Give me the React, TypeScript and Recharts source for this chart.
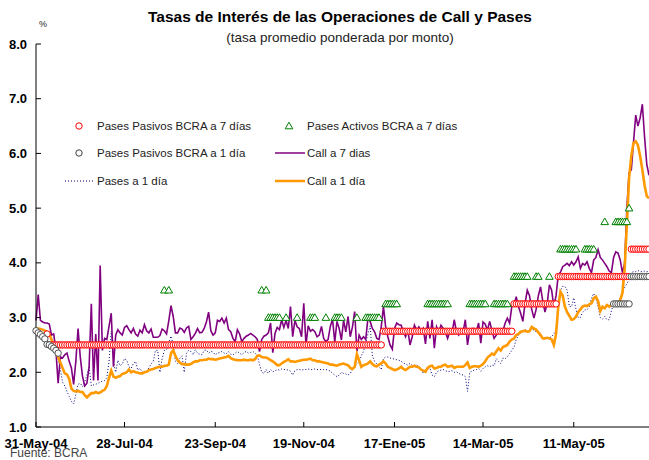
import { ComposedChart, Line, XAxis, YAxis } from "recharts";

const n = null;

// x axis: business-day index; labelled dates fall on these days
const tickDays = [0, 40, 81, 121, 162, 202, 243];
const tickLabels = ["31-May-04", "28-Jul-04", "23-Sep-04", "19-Nov-04", "17-Ene-05", "14-Mar-05", "11-May-05"];
const yTicks = [1, 2, 3, 4, 5, 6, 7, 8];

// Call a 7 días
const call7 = [
  2.95, 3.42, 2.95, 2.92, 2.9, 2.9, 2.88, 2.68, 2.7, 2.4,
  1.8, 2.28, 2.26, 2.32, 2.35, 2.2, 2.08, 1.78, 2.2, 2.8,
  2.28, 1.93, 1.75, 1.8, 2.1, 3.25, 1.85, 2.7, 1.85, 3.95,
  2.4, 2.62, 2.6, 2.84, 3.08, 2.1, 2.68, 2.78, 2.72, 2.68,
  2.82, 2.85, 2.78, 2.72, 2.8, 2.7, 2.66, 2.77, 2.72, 2.87,
  2.76, 2.72, 2.79, 2.64, 2.64, 2.64, 2.67, 2.79, 2.76, 2.7,
  2.94, 3.22, 3.02, 2.72, 2.72, 2.81, 2.79, 2.73, 2.81, 2.84,
  2.6, 2.65, 2.71, 2.8, 2.72, 2.73, 2.8, 2.92, 3.1, 2.76,
  2.68, 2.72, 2.95, 2.93, 2.99, 2.9, 2.99, 2.78, 2.74, 2.62,
  2.56, 2.78, 2.7, 2.56, 2.62, 2.66, 2.68, 2.71, 2.68, 2.65,
  2.6, 2.38, 2.6, 2.66, 2.68, 2.72, 2.9, 2.36, 2.71, 2.82,
  2.78, 2.96, 2.82, 2.95, 2.8, 3.2, 2.65, 2.95, 2.83, 2.8,
  2.65, 3.26, 2.5, 2.85, 2.75, 2.78, 2.74, 2.65, 2.68, 2.84,
  2.62, 2.56, 2.6, 2.84, 2.97, 2.55, 2.93, 2.8, 2.59, 2.95,
  2.74, 3.02, 2.65, 2.83, 3.11, 2.38, 2.68, 2.6, 2.65, 2.6,
  2.99, 2.93, 2.8, 2.74, 2.62, 2.6, 2.83, 3.2, 2.83, 2.65,
  2.5, 2.42, 2.8, 2.9, 2.87, 2.86, 2.74, 2.65, 2.78, 2.5,
  2.65, 2.86, 2.77, 2.83, 2.74, 2.8, 2.52, 2.93, 2.62, 2.96,
  2.44, 2.83, 2.74, 2.86, 2.8, 2.74, 2.62, 2.75, 2.72, 2.96,
  2.74, 2.68, 2.74, 2.74, 2.96, 2.5, 2.77, 2.8, 2.8, 2.74,
  2.9, 2.53, 2.92, 2.88, 2.77, 2.93, 2.77, 2.62, 2.68, 2.74,
  2.71, 2.75, 2.9, 2.99, 2.9, 3.2, 3.23, 3.38, 3.2, 3.08,
  2.93, 3.26, 3.5, 3.4, 3.15, 2.99, 3.15, 3.4, 3.56, 3.3,
  3.1, 3.26, 3.6, 3.5, 3.2, 3.4, 3.78, 3.83, 3.93, 3.96,
  3.99, 3.95, 4.02, 3.96, 4.02, 4.11, 3.9, 3.99, 3.96, 4.02,
  3.9, 3.82, 4.05, 4.1, 4.24, 4.1, 4.05, 3.99, 3.93, 3.85,
  3.82, 4.1, 4.2, 4.18, 4.05, 3.82, 4.0, 5.0, 5.65, 5.7,
  6.2, 6.7, 6.5, 6.65, 6.9, 6.3, 5.8, 5.6,
];

// Call a 1 día
const call1 = [
  2.8, 2.8, 2.79, 2.78, 2.76, 2.74, 2.7, 2.6, 2.5, 2.4,
  2.28, 2.18, 2.08, 1.98, 1.96, 1.88, 1.7, 1.66, 1.65, 1.66,
  1.64, 1.64, 1.58, 1.54, 1.58, 1.62, 1.62, 1.64, 1.62, 1.63,
  1.66, 1.68, 1.75, 1.9, 2.03, 1.92, 1.9, 1.92, 1.93, 1.97,
  1.98, 2.0, 2.05, 2.0, 2.02, 2.0, 1.99, 1.98, 1.98, 2.0,
  2.01, 2.04, 2.05, 2.06, 2.08, 2.09, 2.1, 2.1, 2.12, 2.12,
  2.14, 2.35, 2.4, 2.3, 2.22, 2.18, 2.15, 2.15, 2.14, 2.14,
  2.15, 2.18, 2.2, 2.2, 2.22, 2.22, 2.23, 2.23, 2.25, 2.24,
  2.24, 2.23, 2.24, 2.25, 2.26, 2.27, 2.28, 2.3, 2.26, 2.24,
  2.23, 2.22, 2.22, 2.22, 2.23, 2.22, 2.22, 2.23, 2.22, 2.24,
  2.3, 2.31, 2.28, 2.27, 2.27, 2.25, 2.22, 2.2, 2.17, 2.13,
  2.13, 2.16, 2.19, 2.21, 2.24, 2.2, 2.2, 2.19, 2.2, 2.21,
  2.22, 2.23, 2.23, 2.24, 2.25, 2.22, 2.22, 2.2, 2.2, 2.19,
  2.18, 2.17, 2.16, 2.14, 2.14, 2.13, 2.12, 2.14, 2.15, 2.16,
  2.14, 2.13, 2.08, 2.06, 2.1, 2.33, 2.22, 2.1, 2.13, 2.14,
  2.16, 2.2, 2.15, 2.12, 2.11, 2.14, 2.16, 2.2, 2.16, 2.1,
  2.08, 2.06, 2.04, 2.05, 2.07, 2.1, 2.06, 2.04, 2.07, 2.1,
  2.1, 2.12, 2.1, 2.09, 2.05, 2.03, 2.01, 2.08, 2.11, 2.12,
  2.07, 2.08, 2.1, 2.1, 2.13, 2.14, 2.1, 2.11, 2.12, 2.08,
  2.1, 2.1, 2.1, 2.1, 2.13, 2.18, 2.08, 2.1, 2.11, 2.11,
  2.1, 2.12, 2.15, 2.2, 2.27, 2.3, 2.34, 2.32, 2.38, 2.44,
  2.4, 2.46, 2.48, 2.5, 2.56, 2.6, 2.62, 2.68, 2.7, 2.74,
  2.75, 2.76, 2.74, 2.75, 2.83, 2.8, 2.78, 2.73, 2.68, 2.62,
  2.62, 2.63, 2.62, 2.6, 2.5, 2.7, 3.2, 3.47, 3.4, 3.2,
  3.1, 3.03, 2.96, 2.97, 3.02, 3.1, 3.15, 3.2, 3.22, 3.21,
  3.24, 3.26, 3.35, 3.38, 3.3, 3.12, 3.2, 3.17, 3.23, 3.2,
  3.23, 3.26, 3.27, 3.28, 3.32, 3.45, 3.9, 4.7, 5.55, 5.95,
  6.19, 6.22, 6.15, 5.95, 5.7, 5.42, 5.22, 5.18,
];

// Pases a 1 día
const pases1 = [
  2.75, 2.72, 2.7, 2.66, 2.62, 2.56, 2.5, 2.45, 2.4, 2.35,
  2.25, 2.05, 1.82, 1.75, 1.65, 1.56, 1.47, 1.42, 1.6, 1.78,
  1.8, 1.74, 1.82, 1.95, 2.1, 1.75, 1.77, 1.78, 1.8, 1.82,
  1.84, 1.85, 1.9, 2.2, 2.75, 2.2, 2.0, 2.22, 2.12, 2.15,
  2.25, 2.22, 2.1, 2.07, 2.16, 2.2, 2.04, 2.07, 2.0, 2.02,
  2.0, 2.08, 2.15, 2.2, 2.4, 2.4, 2.0, 2.25, 2.4, 2.42,
  2.55, 2.66, 2.5, 2.2, 2.16, 2.26, 2.3, 2.0, 2.35, 2.4,
  2.38, 2.32, 2.41, 2.35, 2.33, 2.32, 2.4, 2.41, 2.35, 2.38,
  2.37, 2.32, 2.35, 2.36, 2.38, 2.35, 2.34, 2.38, 2.33, 2.32,
  2.35, 2.38, 2.35, 2.32, 2.36, 2.38, 2.35, 2.36, 2.38, 2.35,
  2.3, 2.15, 2.0, 1.98, 2.05, 1.98, 2.05, 2.01, 2.03, 2.05,
  2.04, 2.06, 2.05, 2.05, 2.04, 2.02, 1.95, 2.03, 2.05, 2.05,
  2.04, 2.05, 2.05, 2.06, 2.05, 2.05, 2.06, 2.05, 2.05, 2.05,
  2.05, 2.05, 2.04, 2.02, 1.98, 1.95, 1.92, 1.95, 2.0, 1.98,
  1.97, 1.95, 1.98, 2.05, 2.1, 2.15, 2.2, 2.3, 2.38, 2.55,
  2.7, 2.85, 2.3, 2.2, 2.15, 2.1, 2.05, 2.25, 2.28, 2.28,
  2.26, 2.25, 2.24, 2.23, 2.22, 2.2, 2.17, 2.15, 2.13, 2.16,
  2.13, 2.12, 2.14, 2.1, 2.06, 1.98, 2.04, 2.06, 2.08, 1.95,
  1.92, 2.0, 2.03, 2.04, 2.05, 2.03, 2.01, 2.02, 2.03, 2.0,
  2.01, 1.98, 1.96, 1.95, 1.92, 1.65, 2.0, 2.02, 2.04, 2.05,
  2.07, 2.02, 2.07, 2.1, 2.12, 2.1, 2.13, 2.12, 2.25, 2.2,
  2.16, 2.26, 2.25, 2.28, 2.34, 2.4, 2.46, 2.6, 2.68, 2.71,
  2.75, 2.78, 2.76, 2.75, 2.79, 2.77, 2.74, 2.72, 2.65, 2.62,
  2.62, 2.62, 2.63, 2.65, 2.7, 2.77, 3.2, 3.5, 3.57, 3.57,
  3.5, 3.2, 3.2, 3.36, 3.15, 3.0, 3.0, 3.1, 3.14, 3.14,
  3.2, 3.35, 3.44, 3.35, 3.2, 3.0, 2.97, 3.02, 2.96, 2.96,
  3.12, 3.26, 3.26, 3.26, 3.35, 3.45, 3.55, 3.62, 3.7, 3.82,
  3.84, 3.84, 3.86, 3.84, 3.84, 3.85, 3.84, 3.84,
];

// Pases Pasivos BCRA a 7 días
const pasivos7 = [
  n, n, n, n, n, 2.7, 2.5, 2.5, 2.5, 2.5, 2.5, 2.5, 2.5, 2.5, 2.5, 2.5, 2.5, 2.5, 2.5, 2.5,
  2.5, 2.5, 2.5, 2.5, 2.5, 2.5, 2.5, 2.5, 2.5, 2.5, 2.5, 2.5, 2.5, 2.5, 2.5, 2.5, 2.5, 2.5, 2.5, 2.5,
  2.5, 2.5, 2.5, 2.5, 2.5, 2.5, 2.5, 2.5, 2.5, 2.5, 2.5, 2.5, 2.5, 2.5, 2.5, 2.5, 2.5, 2.5, 2.5, 2.5,
  2.5, 2.5, 2.5, 2.5, 2.5, 2.5, 2.5, 2.5, 2.5, 2.5, 2.5, 2.5, 2.5, 2.5, 2.5, 2.5, 2.5, 2.5, 2.5, 2.5,
  2.5, 2.5, 2.5, 2.5, 2.5, 2.5, 2.5, 2.5, 2.5, 2.5, 2.5, 2.5, 2.5, 2.5, 2.5, 2.5, 2.5, 2.5, 2.5, 2.5,
  2.5, 2.5, 2.5, 2.5, 2.5, 2.5, 2.5, 2.5, 2.5, 2.5, 2.5, 2.5, 2.5, 2.5, 2.5, 2.5, 2.5, 2.5, 2.5, 2.5,
  2.5, 2.5, 2.5, 2.5, 2.5, 2.5, 2.5, 2.5, 2.5, 2.5, 2.5, 2.5, 2.5, 2.5, 2.5, 2.5, 2.5, 2.5, 2.5, 2.5,
  2.5, 2.5, 2.5, 2.5, 2.5, 2.5, 2.5, 2.5, 2.5, 2.5, 2.5, 2.5, 2.5, 2.5, 2.5, 2.5, 2.5, 2.75, 2.75, 2.75,
  2.75, 2.75, 2.75, 2.75, 2.75, 2.75, 2.75, 2.75, 2.75, 2.75, 2.75, 2.75, 2.75, 2.75, 2.75, 2.75, 2.75, 2.75, 2.75, 2.75,
  2.75, 2.75, 2.75, 2.75, 2.75, 2.75, 2.75, 2.75, 2.75, 2.75, 2.75, 2.75, 2.75, 2.75, 2.75, 2.75, 2.75, 2.75, 2.75, 2.75,
  2.75, 2.75, 2.75, 2.75, 2.75, 2.75, 2.75, 2.75, 2.75, 2.75, 2.75, 2.75, 2.75, 2.75, 2.75, 2.75, 3.25, 3.25, 3.25, 3.25,
  3.25, 3.25, 3.25, 3.25, 3.25, 3.25, 3.25, 3.25, 3.25, 3.25, 3.25, 3.25, 3.25, 3.25, 3.25, 3.25, 3.75, 3.75, 3.75, 3.75,
  3.75, 3.75, 3.75, 3.75, 3.75, 3.75, 3.75, 3.75, 3.75, 3.75, 3.75, 3.75, 3.75, 3.75, 3.75, 3.75, 3.75, 3.75, 3.75, 3.75,
  3.75, 3.75, 3.75, 3.75, 3.75, 3.75, 3.75, 3.75, 3.75, 4.25, 4.25, 4.25, 4.25, 4.25, 4.25, 4.25, 4.25, 4.25,
];

// Pases Pasivos BCRA a 1 día
const pasivos1 = [
  2.76, 2.72, 2.69, 2.65, 2.61, 2.51, 2.5, 2.47, 2.44, 2.4, 2.35, n, n, n, n, n, n, n, n, n,
  n, n, n, n, n, n, n, n, n, n, n, n, n, n, n, n, n, n, n, n,
  n, n, n, n, n, n, n, n, n, n, n, n, n, n, n, n, n, n, n, n,
  n, n, n, n, n, n, n, n, n, n, n, n, n, n, n, n, n, n, n, n,
  n, n, n, n, n, n, n, n, n, n, n, n, n, n, n, n, n, n, n, n,
  n, n, n, n, n, n, n, n, n, n, n, n, n, n, n, n, n, n, n, n,
  n, n, n, n, n, n, n, n, n, n, n, n, n, n, n, n, n, n, n, n,
  n, n, n, n, n, n, n, n, n, n, n, n, n, n, n, n, n, n, n, n,
  n, n, n, n, n, n, n, n, n, n, n, n, n, n, n, n, n, n, n, n,
  n, n, n, n, n, n, n, n, n, n, n, n, n, n, n, n, n, n, n, n,
  n, n, n, n, n, n, n, n, n, n, n, n, n, n, n, n, n, n, n, n,
  n, n, n, n, n, n, n, n, n, n, n, n, n, n, n, n, n, n, n, n,
  n, n, n, n, n, n, n, n, n, n, n, n, n, n, n, n, n, n, n, n,
  n, 3.25, 3.25, 3.25, 3.25, 3.25, 3.25, 3.25, 3.25, 3.75, 3.75, 3.75, 3.75, 3.75, 3.75, 3.75, 3.75, 3.75,
];

// Pases Activos BCRA a 7 días
const activos7 = [
  n, n, n, n, n, n, n, n, n, n, n, n, n, n, n, n, n, n, n, n,
  n, n, n, n, n, n, n, n, n, n, n, n, n, n, n, n, n, n, n, n,
  n, n, n, n, n, n, n, n, n, n, n, n, n, n, n, n, n, n, 3.5, n,
  3.5, n, n, n, n, n, n, n, n, n, n, n, n, n, n, n, n, n, n, n,
  n, n, n, n, n, n, n, n, n, n, n, n, n, n, n, n, n, n, n, n,
  n, n, 3.5, n, 3.5, 3, 3, 3, 3, 3, 3, n, n, 3, n, n, n, n, 3, n,
  n, n, n, n, 3, 3, 3, n, n, n, n, 3, n, n, n, 3, 3, 3, 3, n,
  n, n, n, n, n, 3, n, n, n, 3, 3, 3, 3, 3, 3, 3, n, n, 3.25, 3.25,
  3.25, 3.25, 3.25, 3.25, n, n, n, n, n, n, n, n, n, n, n, n, n, 3.25, 3.25, 3.25,
  3.25, 3.25, 3.25, 3.25, 3.25, 3.25, 3.25, n, n, n, n, n, n, n, n, n, 3.25, 3.25, 3.25, 3.25,
  3.25, 3.25, 3.25, 3.25, n, n, n, 3.25, 3.25, 3.25, 3.25, 3.25, 3.25, 3.25, n, n, 3.75, 3.75, 3.75, 3.75,
  3.75, 3.75, 3.75, n, n, n, 3.75, 3.75, n, n, n, n, 3.75, n, n, n, n, 4.25, 4.25, 4.25,
  4.25, 4.25, 4.25, 4.25, 4.25, n, n, n, 4.25, 4.25, 4.25, 4.25, 4.25, n, n, n, n, 4.75, n, n,
  n, n, 4.75, 4.75, 4.75, 4.75, 4.75, 4.75, 5, n, n, n, n, n, n, n, n, n,
];

const data = call7.map((v, i) => ({
  day: i,
  call7: v,
  call1: call1[i],
  pases1: pases1[i],
  pasivos7: pasivos7[i],
  pasivos1: pasivos1[i],
  activos7: activos7[i],
}));

const FONT = "'Liberation Sans', Arial, sans-serif";

const ring = (stroke: string) => (props: any) => {
  const { cx, cy, index } = props;
  if (cy == null || isNaN(cy)) return <g key={index} />;
  return <circle key={index} cx={cx} cy={cy} r={3.2} fill="#ffffff" stroke={stroke} strokeWidth={1} />;
};

const triangle = (props: any) => {
  const { cx, cy, index } = props;
  if (cy == null || isNaN(cy)) return <g key={index} />;
  return (
    <path
      key={index}
      d={`M${cx},${cy - 3.8} L${cx + 3.8},${cy + 2.8} L${cx - 3.8},${cy + 2.8} Z`}
      fill="#ffffff"
      stroke="#008000"
      strokeWidth={1}
    />
  );
};

function Legend() {
  const rows = [126, 153, 181];
  const txt = { fontSize: 11.5, fill: "#222", fontFamily: FONT };
  return (
    <g>
      <circle cx={79} cy={rows[0]} r={3.2} fill="#fff" stroke="#ff0000" />
      <text x={97} y={rows[0] + 4} {...txt}>Pases Pasivos BCRA a 7 días</text>
      <path d={`M289,${rows[0] - 3.8} L292.8,${rows[0] + 2.8} L285.2,${rows[0] + 2.8} Z`} fill="#fff" stroke="#008000" />
      <text x={307} y={rows[0] + 4} {...txt}>Pases Activos BCRA a 7 días</text>

      <circle cx={79} cy={rows[1]} r={3.2} fill="#fff" stroke="#404040" />
      <text x={97} y={rows[1] + 4} {...txt}>Pases Pasivos BCRA a 1 día</text>
      <line x1={275} x2={305} y1={rows[1]} y2={rows[1]} stroke="#800080" strokeWidth={1.5} />
      <text x={307} y={rows[1] + 4} {...txt}>Call a 7 dias</text>

      <line x1={65} x2={95} y1={rows[2]} y2={rows[2]} stroke="#000080" strokeWidth={1} strokeDasharray="1 2" />
      <text x={97} y={rows[2] + 4} {...txt}>Pases a 1 día</text>
      <line x1={275} x2={305} y1={rows[2]} y2={rows[2]} stroke="#ff9900" strokeWidth={2.5} />
      <text x={307} y={rows[2] + 4} {...txt}>Call a 1 día</text>
    </g>
  );
}

export default function App() {
  return (
    <div style={{ position: "absolute", left: 0, top: 0, width: 649, height: 460, background: "#fff", fontFamily: FONT }}>
      <ComposedChart width={649} height={460} data={data} margin={{ top: 44, right: 0, bottom: 0, left: 0 }}>
        <XAxis
          dataKey="day"
          type="number"
          domain={[0, 277]}
          ticks={tickDays}
          interval={0}
          tickFormatter={(d: number) => tickLabels[tickDays.indexOf(d)]}
          height={33}
          tickSize={-5}
          tickMargin={17}
          axisLine={{ stroke: "#000" }}
          tickLine={{ stroke: "#000" }}
          tick={{ fill: "#000", fontSize: 13, fontWeight: "bold", fontFamily: FONT }}
        />
        <YAxis
          type="number"
          domain={[1, 8]}
          ticks={yTicks}
          interval={0}
          width={36}
          tickSize={-5}
          tickMargin={14}
          tickFormatter={(v: number) => v.toFixed(1)}
          axisLine={{ stroke: "#000" }}
          tickLine={{ stroke: "#000" }}
          tick={{ fill: "#000", fontSize: 13, fontWeight: "bold", fontFamily: FONT }}
        />
        <Line type="linear" dataKey="pases1" stroke="#000080" strokeWidth={1} strokeDasharray="1 2" dot={false} activeDot={false} isAnimationActive={false} />
        <Line type="linear" dataKey="call7" stroke="#800080" strokeWidth={1.6} dot={false} activeDot={false} isAnimationActive={false} />
        <Line type="linear" dataKey="pasivos7" stroke="none" dot={ring("#ff0000")} activeDot={false} isAnimationActive={false} />
        <Line type="linear" dataKey="pasivos1" stroke="none" dot={ring("#505050")} activeDot={false} isAnimationActive={false} />
        <Line type="linear" dataKey="call1" stroke="#ff9900" strokeWidth={2.6} dot={false} activeDot={false} isAnimationActive={false} />
        <Line type="linear" dataKey="activos7" stroke="none" dot={triangle} activeDot={false} isAnimationActive={false} />
      </ComposedChart>
      <svg width={649} height={460} style={{ position: "absolute", left: 0, top: 0, pointerEvents: "none" }}>
        <text x={340} y={22} textAnchor="middle" fontSize={15.5} fontWeight="bold" fill="#000" fontFamily={FONT}>
          Tasas de Interés de las Operaciones de Call y Pases
        </text>
        <text x={340} y={42} textAnchor="middle" fontSize={13.5} fill="#222" fontFamily={FONT}>
          (tasa promedio ponderada por monto)
        </text>
        <text x={39} y={27} fontSize={9} fill="#222" fontFamily={FONT}>%</text>
        <Legend />
        <text x={10} y={457} fontSize={12} fill="#444" fontFamily={FONT}>Fuente: BCRA</text>
      </svg>
    </div>
  );
}
